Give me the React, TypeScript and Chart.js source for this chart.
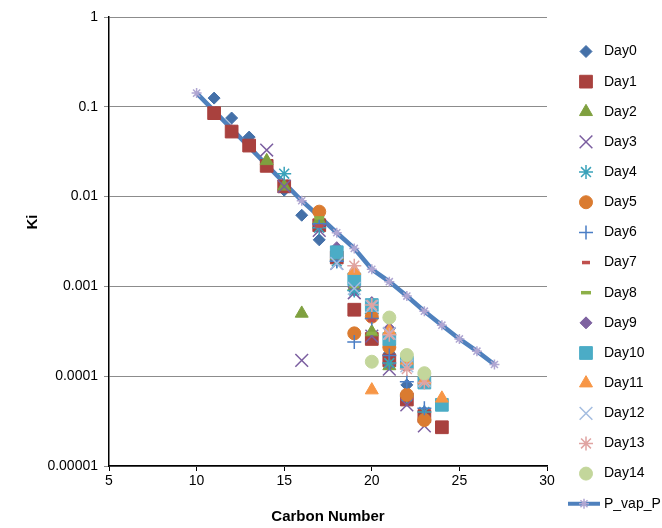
import React, { useEffect, useRef } from "react";
import { Chart, registerables } from "chart.js";
import { drawPoint } from "chart.js/helpers";

Chart.register(...registerables);

const carbonNumbers = [10, 11, 12, 13, 14, 15, 16, 17, 18, 19, 20, 21, 22, 23, 24, 25, 26, 27];
const _ = null;
const day0 = [_, 0.125, 0.075, 0.046, 0.024, 0.0118, 0.0062, 0.0033, 0.002, 0.0009, 0.00045, 0.00018, 0.00008, 0.00004, _, _, _, _];
const day1 = [_, 0.085, 0.053, 0.037, 0.022, 0.013, _, 0.0048, 0.0021, 0.00055, 0.00026, 0.00015, 0.000055, 0.000036, 0.000027, _, _, _];
const day2 = [_, _, _, _, 0.025, 0.013, 0.0005, 0.0055, 0.0022, 0.001, 0.00031, 0.00013, _, _, _, _, _, _];
const day3 = [_, _, _, _, 0.033, 0.013, 0.00015, 0.0042, 0.0018, 0.00085, 0.00028, 0.00012, 0.000048, 0.000028, _, _, _, _];
const day4 = [_, _, _, _, _, 0.018, _, 0.0045, 0.0019, 0.0009, 0.0005, 0.00014, 0.00006, 0.00004, _, _, _, _];
const day5 = [_, _, _, _, _, _, _, 0.0068, _, 0.0003, 0.00046, 0.00021, 0.000062, 0.0000325, _, _, _, _];
const day6 = [_, _, _, _, _, _, _, 0.005, 0.0019, 0.00024, 0.00044, 0.00017, 0.000087, 0.000044, _, _, _, _];
const day7 = [_, _, _, _, _, _, _, 0.0047, 0.0021, 0.001, 0.00042, 0.00024, 0.00012, 0.00008, 0.000043, _, _, _];
const day8 = [_, _, _, _, _, _, _, 0.0058, 0.0022, 0.001, 0.0003, 0.00028, 0.00013, 0.00008, 0.00005, _, _, _];
const day9 = [_, _, _, _, _, _, _, _, 0.0027, 0.0011, 0.00066, 0.00034, 0.00015, 0.0001, _, _, _, _];
const day10 = [_, _, _, _, _, _, _, _, 0.0024, 0.0012, 0.00062, 0.00026, 0.000142, 0.000085, 0.000048, _, _, _];
const day11 = [_, _, _, _, _, _, _, _, _, 0.0015, 0.00007, 0.00032, 0.00015, 0.00009, 0.0000567, _, _, _];
const day12 = [_, _, _, _, _, _, _, _, 0.0018, 0.00095, 0.0006, 0.0003, 0.00013, 0.00009, _, _, _, _];
const day13 = [_, _, _, _, _, _, _, _, _, 0.0017, 0.00062, 0.00029, 0.00012, 0.000085, _, _, _, _];
const day14 = [_, _, _, _, _, _, _, _, _, _, 0.000145, 0.00045, 0.000172, 0.000108, _, _, _, _];
const pVapP = [0.142, 0.09, 0.0567, 0.0358, 0.0225, 0.0142, 0.009, 0.006, 0.00396, 0.00265, 0.00155, 0.00113, 0.00078, 0.00053, 0.00037, 0.00026, 0.00019, 0.000135];

const seriesNames = ["Day0", "Day1", "Day2", "Day3", "Day4", "Day5", "Day6", "Day7", "Day8", "Day9", "Day10", "Day11", "Day12", "Day13", "Day14"];
const seriesValues = [day0, day1, day2, day3, day4, day5, day6, day7, day8, day9, day10, day11, day12, day13, day14];
const lineName = "P_vap_P";
const yTickValues = [0.00001, 0.0001, 0.001, 0.01, 0.1, 1];
const yTickLabels = ["0.00001", "0.0001", "0.001", "0.01", "0.1", "1"];
const xTickValues = [5, 10, 15, 20, 25, 30];

const styles = [
  { ps: "rectRot", r: 6, c: "#4470A8", bw: 1, fill: true },
  { ps: "rect", r: 9, c: "#A9413E", bw: 1, fill: true },
  { ps: "triangle", r: 7.5, c: "#7FA03F", bw: 1, fill: true },
  { ps: "crossRot", r: 9, c: "#7B5EA0", bw: 1.5, fill: false },
  { ps: "star", r: 7, c: "#3AA2BA", bw: 1.5, fill: false },
  { ps: "circle", r: 6.5, c: "#DA7B30", bw: 1, fill: true },
  { ps: "cross", r: 7, c: "#4A7EC5", bw: 1.5, fill: false },
  { ps: "line", r: 4, c: "#C0504D", bw: 3.5, fill: false },
  { ps: "line", r: 5, c: "#8DB048", bw: 3.5, fill: false },
  { ps: "rectRot", r: 6, c: "#7E62A0", bw: 1, fill: true },
  { ps: "rect", r: 9, c: "#4BACC6", bw: 1, fill: true },
  { ps: "triangle", r: 7.5, c: "#F79646", bw: 1, fill: true },
  { ps: "crossRot", r: 9, c: "#A4BDE0", bw: 1.5, fill: false },
  { ps: "star", r: 7, c: "#E0A4A2", bw: 1.5, fill: false },
  { ps: "circle", r: 6.5, c: "#C3D69B", bw: 1, fill: true },
];
const lineColor = "#4F81BD";
const lineMarkerColor = "#B0A6D2";

const FONT = "'Liberation Sans', Arial, sans-serif";

function toPoints(vals: (number | null)[]) {
  const out: { x: number; y: number }[] = [];
  carbonNumbers.forEach((c, i) => {
    const v = vals[i];
    if (v != null) out.push({ x: c, y: v });
  });
  return out;
}

const overlayPlugin = {
  id: "overlay",
  afterDraw(chart: any) {
    const ctx = chart.ctx;
    ctx.save();
    // axis titles
    ctx.fillStyle = "#000";
    ctx.font = `bold 15px ${FONT}`;
    ctx.textAlign = "center";
    ctx.textBaseline = "middle";
    const area = chart.chartArea;
    ctx.fillText("Carbon Number", (area.left + area.right) / 2, 517);
    ctx.save();
    ctx.translate(33, 222);
    ctx.rotate(-Math.PI / 2);
    ctx.fillText("Ki", 0, 0);
    ctx.restore();

    // legend
    const lx = 586;
    const tx = 604;
    const y0 = 51.5;
    const dy = 30.15;
    ctx.font = `14px ${FONT}`;
    ctx.textAlign = "left";
    ctx.textBaseline = "middle";
    seriesNames.forEach((name, i) => {
      const s = styles[i];
      const y = y0 + dy * i;
      ctx.fillStyle = s.c;
      ctx.strokeStyle = s.c;
      ctx.lineWidth = s.bw;
      ctx.lineCap = "butt";
      drawPoint(ctx, { pointStyle: s.ps, radius: s.r, rotation: 0, borderWidth: s.bw } as any, lx, y);
      ctx.fillStyle = "#000";
      ctx.fillText(name, tx, y);
    });
    const yl = y0 + dy * seriesNames.length;
    ctx.strokeStyle = lineColor;
    ctx.lineWidth = 4;
    ctx.beginPath();
    ctx.moveTo(568, yl);
    ctx.lineTo(600, yl);
    ctx.stroke();
    ctx.strokeStyle = lineMarkerColor;
    ctx.lineWidth = 1.5;
    drawPoint(ctx, { pointStyle: "star", radius: 5, rotation: 0, borderWidth: 1.5 } as any, 584, yl);
    ctx.fillStyle = "#000";
    ctx.fillText(lineName, tx, yl);
    ctx.restore();
  },
};

export default function App() {
  const ref = useRef<HTMLCanvasElement | null>(null);
  useEffect(() => {
    if (!ref.current) return;
    const datasets: any[] = seriesNames.map((name, i) => {
      const s = styles[i];
      return {
        label: name,
        data: toPoints(seriesValues[i]),
        showLine: false,
        pointStyle: s.ps,
        pointRadius: s.r,
        pointHoverRadius: s.r,
        pointBorderWidth: s.bw,
        pointBackgroundColor: s.c,
        pointBorderColor: s.c,
        backgroundColor: s.c,
        borderColor: s.c,
        order: -i,
      };
    });
    datasets.push({
      label: lineName,
      data: toPoints(pVapP),
      showLine: true,
      borderColor: lineColor,
      borderWidth: 4.5,
      pointStyle: "star",
      pointRadius: 5,
      pointHoverRadius: 5,
      pointBorderWidth: 1.5,
      pointBorderColor: lineMarkerColor,
      pointBackgroundColor: lineMarkerColor,
      order: 10,
    });
    const chart = new Chart(ref.current, {
      type: "scatter",
      data: { datasets },
      plugins: [overlayPlugin],
      options: {
        animation: false,
        responsive: true,
        maintainAspectRatio: false,
        events: [],
        layout: { padding: { top: 17, right: 115, left: 0, bottom: 0 } },
        plugins: { legend: { display: false }, tooltip: { enabled: false } },
        scales: {
          x: {
            type: "linear",
            min: 5,
            max: 30,
            afterFit: (s: any) => {
              s.height = 62;
            },
            afterBuildTicks: (s: any) => {
              s.ticks = xTickValues.map((v) => ({ value: v }));
            },
            ticks: { color: "#000", font: { size: 14, family: FONT }, padding: 2 },
            grid: { drawOnChartArea: false, drawTicks: true, tickLength: 5, color: "#000" },
            border: { color: "#000", width: 1.5 },
          },
          y: {
            type: "logarithmic",
            min: 0.00001,
            max: 1,
            afterFit: (s: any) => {
              s.width = 109;
            },
            afterBuildTicks: (s: any) => {
              s.ticks = yTickValues.map((v) => ({ value: v }));
            },
            ticks: {
              color: "#000",
              font: { size: 14, family: FONT },
              padding: 6,
              callback: (v: any) => {
                const idx = yTickValues.findIndex((t) => Math.abs(Math.log10(t) - Math.log10(v)) < 1e-6);
                return idx >= 0 ? yTickLabels[idx] : "";
              },
            },
            grid: { color: "#8C8C8C", lineWidth: 1, tickLength: 5, tickColor: "#8C8C8C" },
            border: { color: "#000", width: 1.5 },
          },
        },
      },
    });
    return () => chart.destroy();
  }, []);
  return (
    <div style={{ position: "fixed", left: 0, top: 0, width: 662, height: 528, background: "#fff" }}>
      <canvas ref={ref} />
    </div>
  );
}
